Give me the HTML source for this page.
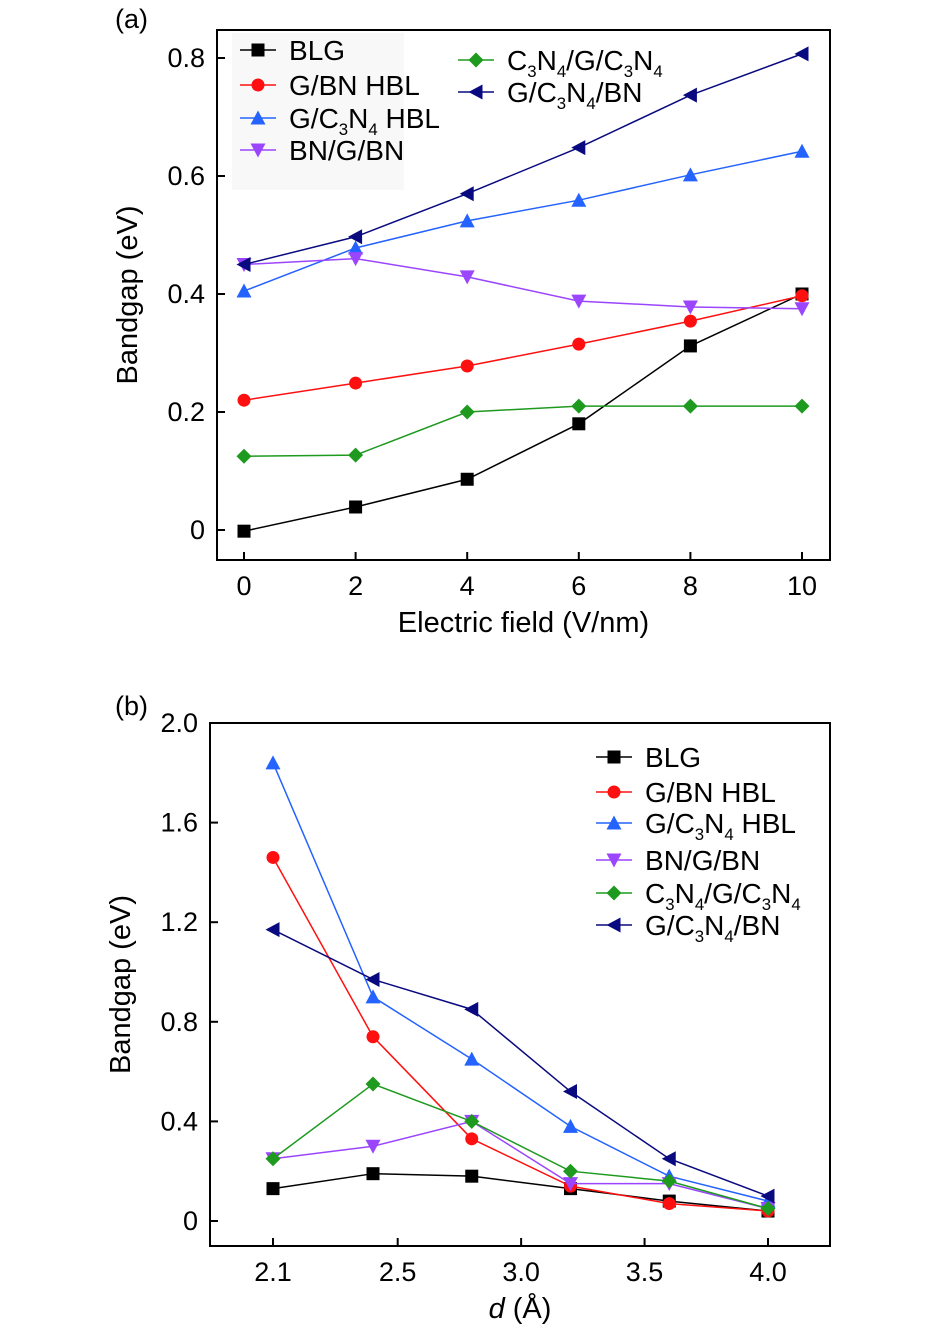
<!DOCTYPE html>
<html><head><meta charset="utf-8"><style>
body{margin:0;background:#fff;}
svg{display:block;font-family:"Liberation Sans",sans-serif;}
</style></head><body>
<svg id="s" width="945" height="1336" viewBox="0 0 945 1336" xmlns="http://www.w3.org/2000/svg"></svg>
<script>
const seriesNames = ["BLG","G/BN HBL","G/C3N4 HBL","BN/G/BN","C3N4/G/C3N4","G/C3N4/BN"];
const colors = ["#000000","#ff1010","#2563ff","#9b45ff","#1e9a1e","#0a0a80"];
const markers = ["square","circle","up","down","diamond","left"];
const fieldX = [0,2,4,6,8,10];
const aBLG = [-0.002,0.039,0.086,0.18,0.312,0.40];
const aGBN = [0.22,0.249,0.278,0.315,0.354,0.397];
const aGC3N4 = [0.405,0.478,0.524,0.559,0.602,0.642];
const aBNGBN = [0.45,0.46,0.429,0.388,0.378,0.375];
const aC3N4GC3N4 = [0.125,0.127,0.20,0.21,0.21,0.21];
const aGC3N4BN = [0.45,0.497,0.57,0.648,0.737,0.807];
const dX = [2.1,2.4,2.8,3.2,3.6,4.0];
const bBLG = [0.13,0.19,0.18,0.13,0.08,0.04];
const bGBN = [1.46,0.74,0.33,0.14,0.07,0.04];
const bGC3N4 = [1.84,0.90,0.65,0.38,0.18,0.08];
const bBNGBN = [0.25,0.30,0.40,0.15,0.15,0.05];
const bC3N4GC3N4 = [0.25,0.55,0.40,0.20,0.16,0.05];
const bGC3N4BN = [1.17,0.97,0.85,0.52,0.25,0.10];
const aXTicks = [0,2,4,6,8,10];
const aYTicks = [0,0.2,0.4,0.6,0.8];
const aYLabels = ["0","0.2","0.4","0.6","0.8"];
const bXTicks = [2.1,2.5,3.0,3.5,4.0];
const bXLabels = ["2.1","2.5","3.0","3.5","4.0"];
const bYTicks = [0,0.4,0.8,1.2,1.6,2.0];
const bYLabels = ["0","0.4","0.8","1.2","1.6","2.0"];

const S = document.getElementById('s');
const NS = "http://www.w3.org/2000/svg";
function mk(tag, attrs, parent){const e=document.createElementNS(NS,tag);for(const k in attrs)e.setAttribute(k,attrs[k]);(parent||S).appendChild(e);return e;}

function marker(g,type,x,y,c){
  const r=6.5;let e;
  if(type==="square") e=mk('rect',{x:x-r,y:y-r,width:2*r,height:2*r,fill:c},g);
  else if(type==="circle") e=mk('circle',{cx:x,cy:y,r:r,fill:c},g);
  else {
    let p;
    if(type==="up") p=[[x,y-r-1],[x+r+1,y+r],[x-r-1,y+r]];
    if(type==="down") p=[[x,y+r+1],[x+r+1,y-r],[x-r-1,y-r]];
    if(type==="diamond") p=[[x,y-r-1],[x+r+1,y],[x,y+r+1],[x-r-1,y]];
    if(type==="left") p=[[x-r-1,y],[x+r,y-r-1],[x+r,y+r+1]];
    e=mk('polygon',{points:p.map(q=>q.join(',')).join(' '),fill:c},g);
  }
  
  
}

function label(g,x,y,name,size){
  const t=mk('text',{x:x,y:y,'font-size':size,fill:'#000'},g);
  
  
  let sub=false;
  for(const ch of name){
    const isSub=/[34]/.test(ch);
    const a={};
    if(isSub){a['font-size']=size*0.6;a.dy=7;}
    else if(sub){a.dy=-7;}
    const ts=mk('tspan',a,t);ts.textContent=ch;
    sub=isSub;
  }
}

function panel(cfg){
  const g=mk('g',{});
  
  
  const sx=v=>{const d=cfg.xd,p=cfg.xp;for(let i=0;i<d.length-1;i++){if(v<=d[i+1]||i===d.length-2)return p[i]+(v-d[i])*(p[i+1]-p[i])/(d[i+1]-d[i]);}};
  const sy=v=>cfg.y0+(v-cfg.ya)*(cfg.y1-cfg.y0)/(cfg.yb-cfg.ya);
  if(cfg.legBox){const r=mk('rect',Object.assign({fill:'#f8f8f8'},cfg.legBox),g);}
  const fr=mk('rect',{x:cfg.L,y:cfg.T,width:cfg.R-cfg.L,height:cfg.B-cfg.T,fill:'none',stroke:'#000','stroke-width':2},g);
  
  cfg.xt.forEach((v,i)=>{const x=sx(v);mk('line',{x1:x,x2:x,y1:cfg.B,y2:cfg.B-8,stroke:'#000','stroke-width':2},g);
    const t=mk('text',{x:x,y:cfg.B+35,'font-size':27,'text-anchor':'middle'},g);t.textContent=cfg.xl[i];
    });
  cfg.yt.forEach((v,i)=>{const y=sy(v);mk('line',{x1:cfg.L,x2:cfg.L+8,y1:y,y2:y,stroke:'#000','stroke-width':2},g);
    const t=mk('text',{x:cfg.L-12,y:y+9,'font-size':27,'text-anchor':'end'},g);t.textContent=cfg.yl[i];
    });
  cfg.series.forEach((ys,k)=>{
    const pts=ys.map((v,i)=>sx(cfg.xs[i])+','+sy(v)).join(' ');
    const pl=mk('polyline',{points:pts,fill:'none',stroke:colors[k],'stroke-width':1.5},g);
    
    ys.forEach((v,i)=>marker(g,markers[k],sx(cfg.xs[i]),sy(v),colors[k]));
  });
  cfg.leg.forEach((p,k)=>{
    mk('line',{x1:p[0],x2:p[0]+36,y1:p[1],y2:p[1],stroke:colors[k],'stroke-width':1.5},g);
    marker(g,markers[k],p[0]+18,p[1],colors[k]);
    label(g,p[0]+49,p[1]+10,seriesNames[k],28);
  });
  const pl=mk('text',{x:cfg.tagX,y:cfg.tagY,'font-size':27},g);pl.textContent=cfg.tag;
  
  const xt=mk('text',{x:(cfg.L+cfg.R)/2,y:cfg.B+72,'font-size':29,'text-anchor':'middle'},g);
  xt.innerHTML=cfg.xtitle;
  const yc=(cfg.T+cfg.B)/2;
  const yt=mk('text',{x:cfg.L-80,y:yc,'font-size':29,'text-anchor':'middle',transform:`rotate(-90 ${cfg.L-80} ${yc})`},g);
  yt.textContent='Bandgap (eV)';
}

panel({name:'panel-a',L:217,R:830,T:30,B:560,xd:[0,10],xp:[244,802],y0:530,y1:58,ya:0,yb:0.8,
  xs:fieldX,series:[aBLG,aGBN,aGC3N4,aBNGBN,aC3N4GC3N4,aGC3N4BN],
  xt:aXTicks,xl:aXTicks.map(String),yt:aYTicks,yl:aYLabels,
  legBox:{x:232,y:33,width:172,height:157},
  leg:[[240,50],[240,85],[240,118],[240,150],[458,60],[458,92]],
  tag:'(a)',tagX:115,tagY:28,xtitle:'Electric field (V/nm)'});
panel({name:'panel-b',L:210,R:830,T:723,B:1246,xd:[2.1,2.4,4.0],xp:[273,373,768],y0:1221,y1:723,ya:0,yb:2.0,
  xs:dX,series:[bBLG,bGBN,bGC3N4,bBNGBN,bC3N4GC3N4,bGC3N4BN],
  xt:bXTicks,xl:bXLabels,yt:bYTicks,yl:bYLabels,
  legBox:null,
  leg:[[596,757],[596,792],[596,823],[596,860],[596,893],[596,925]],
  tag:'(b)',tagX:115,tagY:715,xtitle:'<tspan font-style="italic">d</tspan> (Å)'});
</script>
</body></html>
